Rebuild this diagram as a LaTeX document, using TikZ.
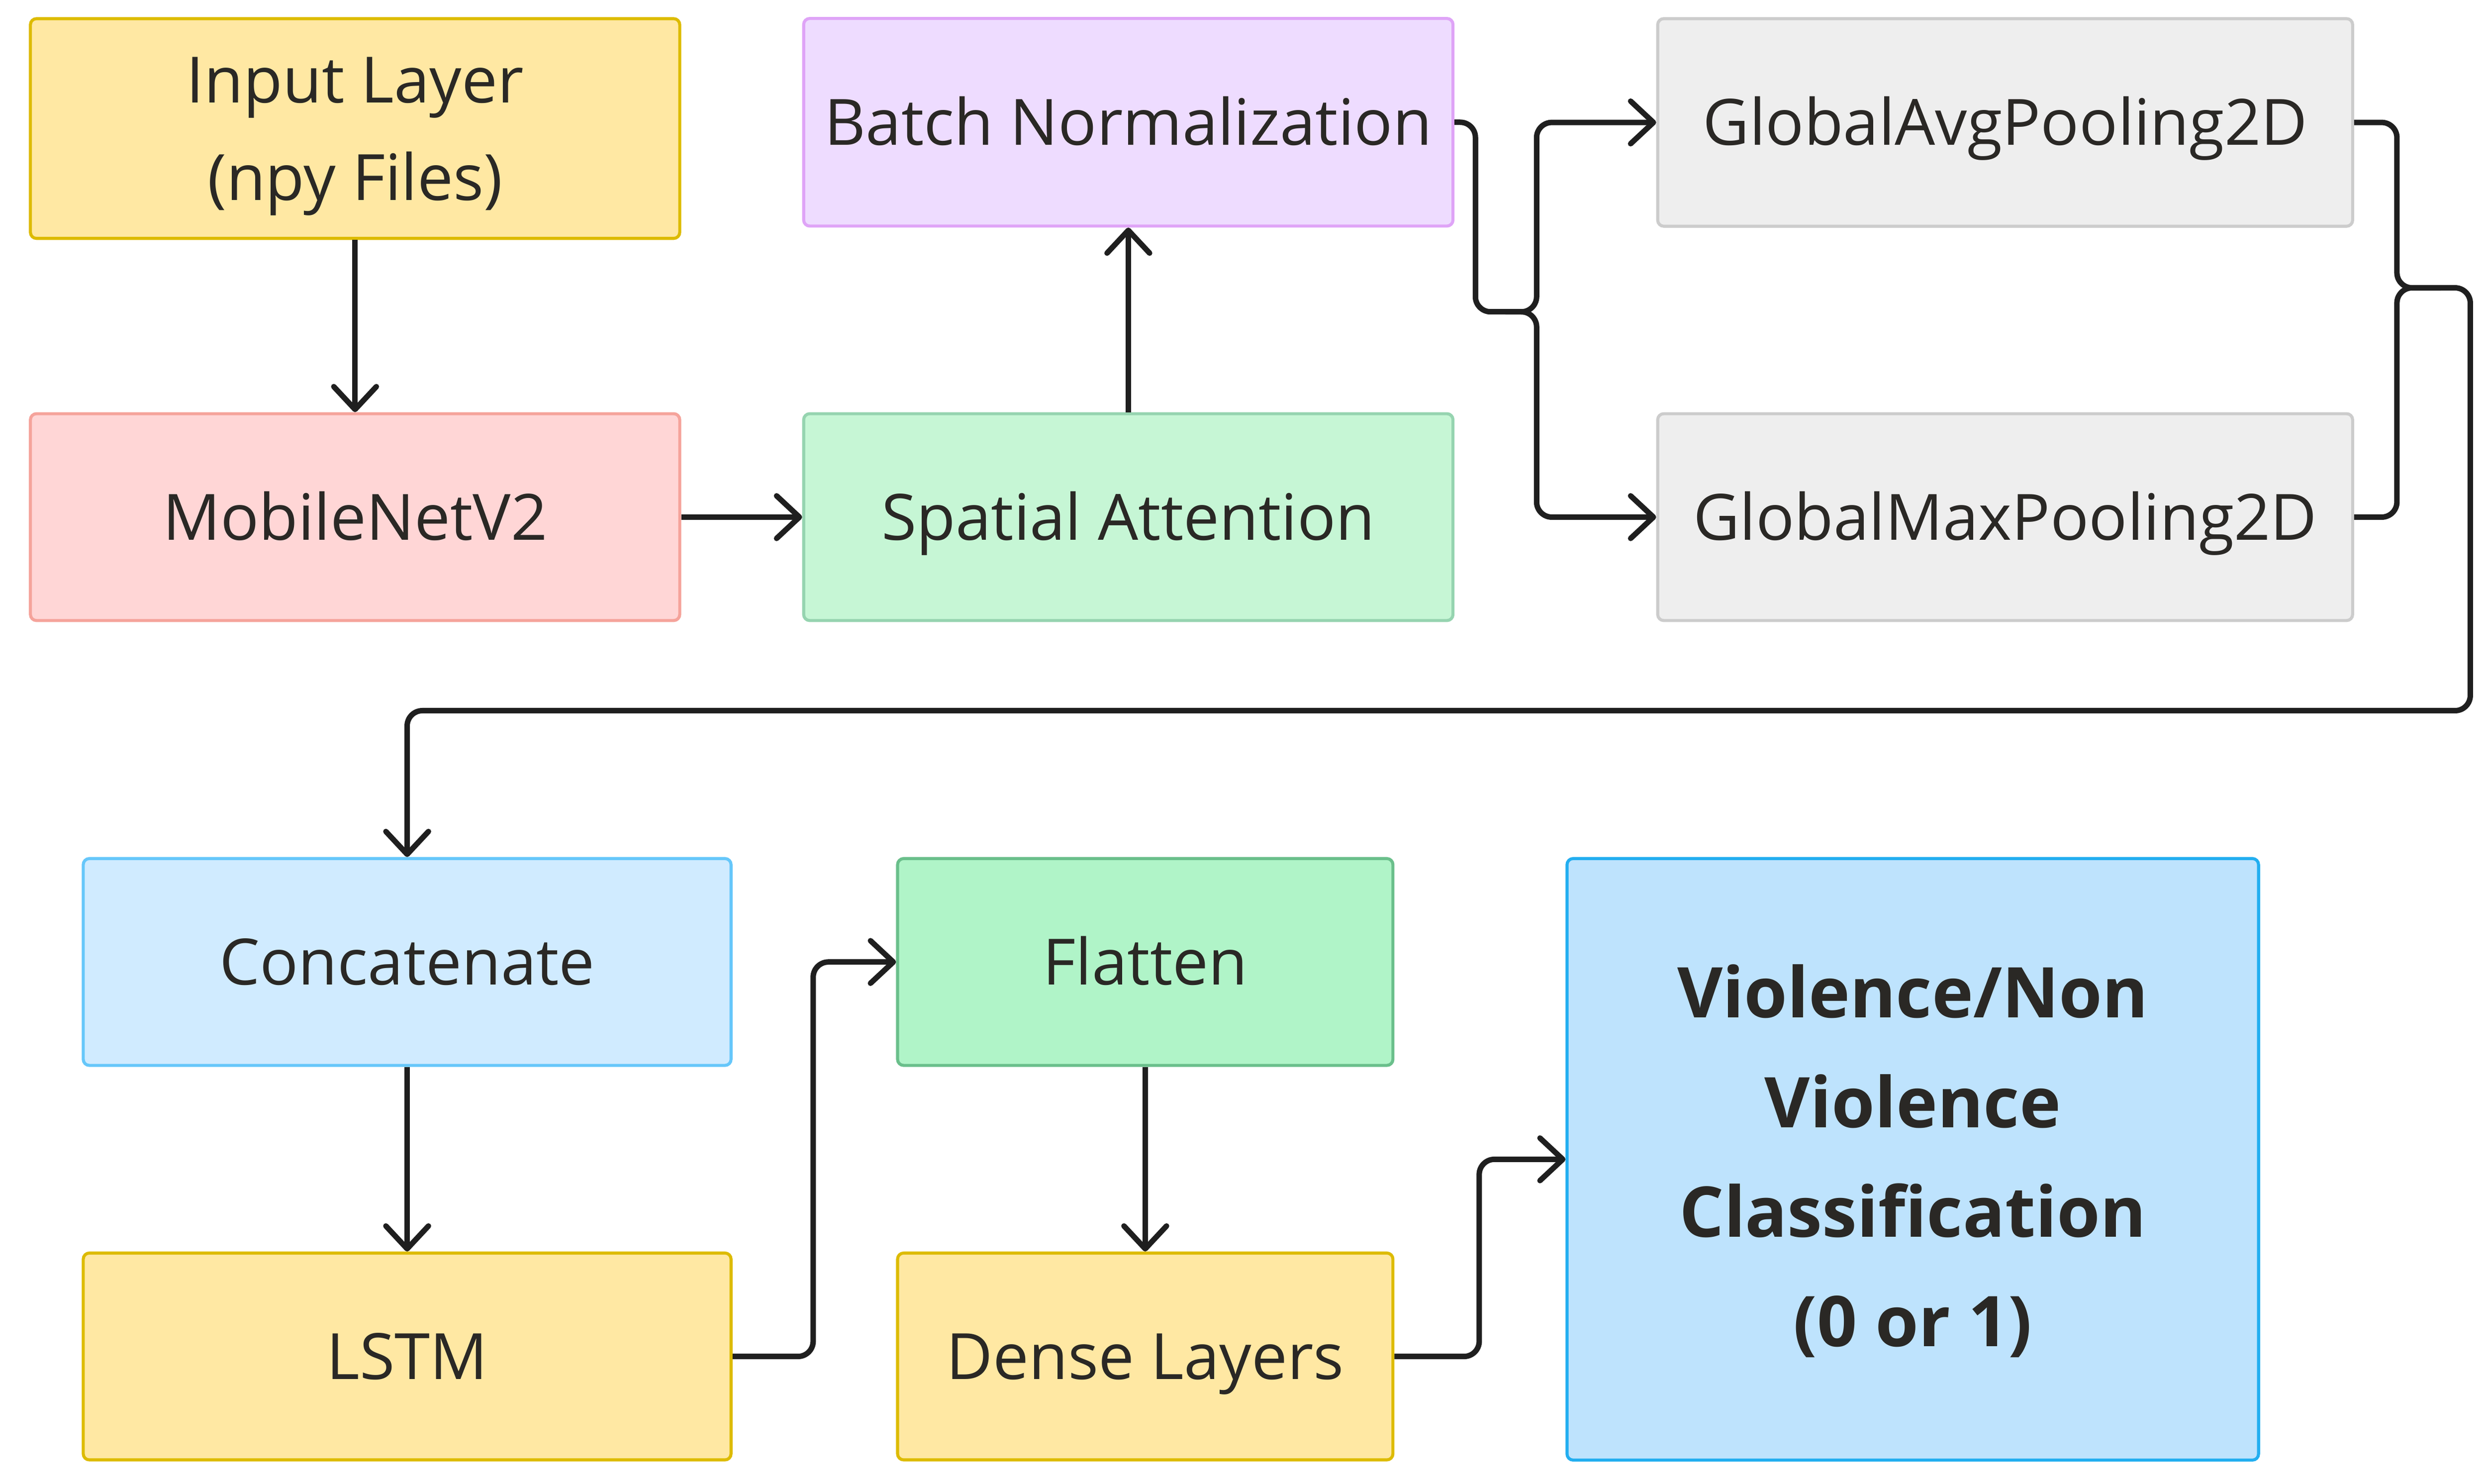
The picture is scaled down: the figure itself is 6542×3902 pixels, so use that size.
\documentclass[tikz,border=0pt]{standalone}
\usepackage{fontspec}
\setmainfont{Open Sans}
\usetikzlibrary{arrows.meta}
\definecolor{yfill}{HTML}{FFE8A3}
\definecolor{ydraw}{HTML}{DDBB00}
\definecolor{rfill}{HTML}{FFD6D6}
\definecolor{rdraw}{HTML}{F5A39B}
\definecolor{gfill}{HTML}{C6F6D5}
\definecolor{gdraw}{HTML}{96D4B0}
\definecolor{pfill}{HTML}{EEDCFF}
\definecolor{pdraw}{HTML}{DFA4F7}
\definecolor{grfill}{HTML}{EEEEEE}
\definecolor{grdraw}{HTML}{CCCCCC}
\definecolor{bfill}{HTML}{D0EBFF}
\definecolor{bdraw}{HTML}{66C7FA}
\definecolor{gtfill}{HTML}{B0F4C8}
\definecolor{gtdraw}{HTML}{6ABF8B}
\definecolor{vfill}{HTML}{BEE3FD}
\definecolor{vdraw}{HTML}{22AEF0}
\definecolor{txt}{HTML}{2A2825}
\definecolor{ln}{HTML}{1F1F1F}
\begin{document}
\begin{tikzpicture}[x=0.25pt,y=-0.25pt,
  box/.style={rectangle, rounded corners=4pt, line width=2pt, inner sep=0pt,
    text=txt, align=center, font=\fontsize{42}{64}\selectfont},
  oneline/.style={text height=30pt, text depth=0pt},
  yellowbox/.style={box, fill=yfill, draw=ydraw},
  conn/.style={draw=ln, line width=3.6pt, rounded corners=10pt,
    -{Straight Barb[length=15pt,width=28pt,round]}},
  plainconn/.style={draw=ln, line width=3.6pt, rounded corners=10pt}]
\useasboundingbox (0,0) rectangle (6542,3902);
\fill[white] (0,0) rectangle (6542,3902);

\node[yellowbox, text depth=0pt, minimum width=427pt, minimum height=144.5pt] (input) at (934,338) {Input Layer\\(npy Files)};
\node[box, oneline, fill=rfill, draw=rdraw, minimum width=427pt, minimum height=136pt] (mobile) at (934,1360) {MobileNetV2};
\node[box, oneline, fill=gfill, draw=gdraw, minimum width=427pt, minimum height=136pt] (spatial) at (2968,1360) {Spatial Attention};
\node[box, oneline, fill=pfill, draw=pdraw, minimum width=427pt, minimum height=136.5pt] (batch) at (2968,321.5) {Batch Normalization};
\node[box, oneline, fill=grfill, draw=grdraw, minimum width=457pt, minimum height=136.5pt] (gavg) at (5274.5,322) {GlobalAvgPooling2D};
\node[box, oneline, fill=grfill, draw=grdraw, minimum width=457pt, minimum height=136pt] (gmax) at (5274.5,1360) {GlobalMaxPooling2D};
\node[box, oneline, fill=bfill, draw=bdraw, minimum width=426pt, minimum height=136pt] (concat) at (1071,2530) {Concatenate};
\node[yellowbox, oneline, minimum width=426pt, minimum height=136pt] (lstm) at (1071,3567.5) {LSTM};
\node[box, oneline, fill=gtfill, draw=gtdraw, minimum width=325.75pt, minimum height=136pt] (flatten) at (3012.5,2530) {Flatten};
\node[yellowbox, oneline, minimum width=325.75pt, minimum height=136pt] (dense) at (3012.5,3567.5) {Dense Layers};
\node[box, fill=vfill, draw=vdraw, minimum width=454.75pt, minimum height=395.5pt, text depth=5pt,
  font=\fontsize{46}{72}\selectfont\bfseries] (viol) at (5031.5,3049) {Violence/Non\\Violence\\Classification\\(0 or 1)};

\coordinate (bn1) at (3881,820);
\coordinate (bn1r) at (3960,820);
\coordinate (bn2) at (4042,820);
\coordinate (m1) at (6305,757);
\coordinate (m2) at (6498,1869);
\coordinate (m3) at (6420,757);
\coordinate (lf) at (2139,2530);
\coordinate (dv) at (3891,3049);

\draw[conn] (input) -- (mobile);
\draw[conn] (mobile) -- (spatial);
\draw[conn] (spatial) -- (batch);
\draw[conn] (batch.east) -| (bn1) -- (bn2) |- (gavg.west);
\draw[conn] (bn1r) -- (bn2) |- (gmax.west);
\draw[conn] (gavg.east) -| (m1) -| (m2) -| (concat.north);
\draw[plainconn] (gmax.east) -| (m1) -- (m3);
\draw[conn] (concat) -- (lstm);
\draw[conn] (lstm.east) -| (lf) -- (flatten.west);
\draw[conn] (flatten) -- (dense);
\draw[conn] (dense.east) -| (dv) -- (viol.west);
\end{tikzpicture}
\end{document}
